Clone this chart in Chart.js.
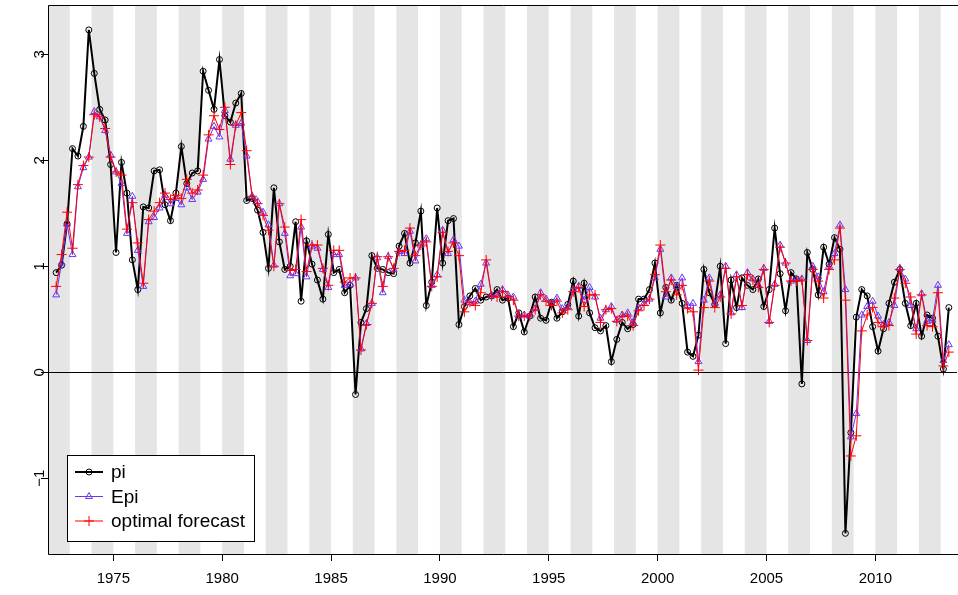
<!DOCTYPE html>
<html>
<head>
<meta charset="utf-8">
<script src="https://cdn.jsdelivr.net/npm/chart.js@4/dist/chart.umd.min.js"></script>
<style>
html, body { margin: 0; padding: 0; background: #fff; }
#wrap { width: 958px; height: 595px; }
</style>
</head>
<body>
<div id="wrap"><canvas id="chart" width="958" height="595"></canvas></div>
<script>
// quarterly series, first observation 1972 Q2 (mid-quarter dates)
const firstQuarter = 1972.375;

const pi = [0.94, 1.01, 1.40, 2.11, 2.04, 2.32, 3.23, 2.82, 2.48, 2.38,
    1.96, 1.13, 1.98, 1.69, 1.06, 0.78, 1.56, 1.55, 1.90, 1.91,
    1.58, 1.43, 1.69, 2.13, 1.78, 1.88, 1.90, 2.84, 2.66, 2.48,
    2.95, 2.42, 2.36, 2.54, 2.63, 1.62, 1.64, 1.53, 1.32, 0.98,
    1.74, 1.23, 0.97, 1.00, 1.42, 0.67, 1.24, 1.02, 0.87, 0.69,
    1.30, 0.94, 0.97, 0.75, 0.82, -0.21, 0.47, 0.60, 1.10, 0.98,
    0.97, 0.94, 0.93, 1.19, 1.31, 1.03, 1.22, 1.52, 0.63, 0.85,
    1.55, 1.03, 1.43, 1.45, 0.45, 0.62, 0.72, 0.79, 0.68, 0.71,
    0.72, 0.78, 0.68, 0.70, 0.43, 0.56, 0.38, 0.53, 0.71, 0.51,
    0.49, 0.66, 0.51, 0.57, 0.64, 0.86, 0.53, 0.84, 0.56, 0.42,
    0.39, 0.44, 0.10, 0.31, 0.47, 0.41, 0.45, 0.69, 0.69, 0.78,
    1.03, 0.56, 0.80, 0.68, 0.82, 0.65, 0.19, 0.15, 0.35, 0.97,
    0.75, 0.64, 1.00, 0.27, 0.87, 0.61, 0.89, 0.82, 0.78, 0.88,
    0.62, 0.78, 1.36, 0.93, 0.58, 0.94, 0.88, -0.11, 1.13, 0.97,
    0.73, 1.18, 1.02, 1.27, 1.16, -1.52, -0.57, 0.52, 0.78, 0.72,
    0.43, 0.20, 0.41, 0.65, 0.85, 0.97, 0.65, 0.44, 0.65, 0.34,
    0.54, 0.51, 0.34, 0.03, 0.61];

const epi = [0.73, 1.03, 1.40, 1.11, 1.75, 1.93, 2.03, 2.46, 2.41, 2.28,
    2.05, 1.89, 1.78, 1.31, 1.66, 1.15, 0.81, 1.42, 1.46, 1.55,
    1.67, 1.59, 1.64, 1.58, 1.74, 1.63, 1.70, 1.82, 2.20, 2.32,
    2.22, 2.47, 2.01, 2.33, 2.35, 2.04, 1.66, 1.61, 1.51, 1.39,
    1.01, 1.59, 1.31, 0.91, 0.93, 1.37, 0.90, 1.19, 1.17, 0.97,
    0.80, 1.11, 1.11, 0.82, 0.83, 0.89, 0.22, 0.46, 0.65, 1.08,
    0.75, 1.09, 0.97, 1.14, 1.12, 1.33, 1.05, 1.20, 1.26, 0.82,
    0.92, 1.34, 1.12, 1.25, 1.19, 0.68, 0.66, 0.67, 0.83, 1.03,
    0.72, 0.73, 0.78, 0.73, 0.71, 0.53, 0.54, 0.53, 0.60, 0.75,
    0.69, 0.65, 0.70, 0.60, 0.62, 0.78, 0.81, 0.68, 0.80, 0.71,
    0.51, 0.59, 0.62, 0.49, 0.54, 0.56, 0.47, 0.61, 0.65, 0.69,
    0.89, 1.16, 0.71, 0.89, 0.81, 0.89, 0.63, 0.65, 0.10, 0.68,
    0.89, 0.65, 0.73, 1.00, 0.56, 0.92, 0.61, 0.94, 0.88, 0.82,
    0.98, 0.48, 0.83, 1.20, 1.03, 0.86, 0.88, 0.88, 0.30, 1.00,
    0.90, 0.76, 1.00, 1.12, 1.39, 0.78, -0.61, -0.39, 0.54, 0.62,
    0.67, 0.53, 0.45, 0.47, 0.63, 0.98, 0.88, 0.63, 0.41, 0.74,
    0.48, 0.49, 0.82, 0.11, 0.26];

const forecast = [0.81, 1.11, 1.51, 1.17, 1.77, 1.95, 2.03, 2.43, 2.41, 2.30,
    2.03, 1.89, 1.86, 1.35, 1.60, 1.22, 0.84, 1.44, 1.52, 1.60,
    1.69, 1.63, 1.67, 1.64, 1.82, 1.69, 1.72, 1.86, 2.24, 2.42,
    2.29, 2.50, 1.96, 2.33, 2.45, 2.09, 1.66, 1.59, 1.48, 1.34,
    1.00, 1.59, 1.37, 0.96, 0.97, 1.44, 0.95, 1.20, 1.20, 0.98,
    0.82, 1.15, 1.15, 0.85, 0.89, 0.89, 0.21, 0.45, 0.65, 1.09,
    0.81, 1.09, 0.98, 1.14, 1.15, 1.36, 1.10, 1.20, 1.23, 0.81,
    0.90, 1.32, 1.14, 1.22, 1.10, 0.57, 0.66, 0.63, 0.75, 1.06,
    0.72, 0.71, 0.76, 0.71, 0.68, 0.53, 0.53, 0.53, 0.59, 0.73,
    0.67, 0.63, 0.67, 0.56, 0.59, 0.76, 0.80, 0.62, 0.73, 0.73,
    0.47, 0.59, 0.60, 0.48, 0.53, 0.53, 0.44, 0.58, 0.63, 0.69,
    0.92, 1.20, 0.76, 0.87, 0.73, 0.82, 0.60, 0.57, 0.02, 0.61,
    0.86, 0.61, 0.71, 0.98, 0.55, 0.90, 0.63, 0.92, 0.87, 0.80,
    0.97, 0.47, 0.82, 1.18, 1.03, 0.86, 0.86, 0.87, 0.30, 0.97,
    0.86, 0.70, 0.97, 1.06, 1.36, 0.68, -0.79, -0.60, 0.39, 0.54,
    0.61, 0.47, 0.43, 0.44, 0.70, 0.97, 0.84, 0.71, 0.36, 0.73,
    0.44, 0.43, 0.75, 0.06, 0.19];

const xTicks = [1975, 1980, 1985, 1990, 1995, 2000, 2005, 2010];
const yTicks = [-1, 0, 1, 2, 3];
const seriesNames = ['pi', 'Epi', 'optimal forecast'];
const seriesColors = ['#000000', '#6a35f5', '#ff0000'];

const quarters = pi.map((v, i) => firstQuarter + i * 0.25);
const toPoints = arr => arr.map((v, i) => ({ x: quarters[i], y: v }));

const FONT = "'Liberation Sans', Arial, Helvetica, sans-serif";

// grey bands for every other year, zero line, box
const backdrop = {
    id: 'backdrop',
    beforeDatasetsDraw(chart) {
        const { ctx, chartArea: a, scales: { x, y } } = chart;
        ctx.save();
        ctx.beginPath();
        ctx.rect(a.left, a.top, a.right - a.left, a.bottom - a.top);
        ctx.clip();
        ctx.fillStyle = '#e5e5e5';
        for (let yr = 1972; yr < 2014; yr += 2) {
            const x0 = x.getPixelForValue(yr);
            const x1 = x.getPixelForValue(yr + 1);
            ctx.fillRect(x0, a.top, x1 - x0, a.bottom - a.top);
        }
        ctx.strokeStyle = '#000';
        ctx.lineWidth = 1;
        const y0 = Math.round(y.getPixelForValue(0)) + 0.5;
        ctx.beginPath();
        ctx.moveTo(a.left, y0);
        ctx.lineTo(a.right, y0);
        ctx.stroke();
        ctx.restore();
    },
    afterDraw(chart) {
        const { ctx, chartArea: a, scales: { y } } = chart;
        ctx.save();
        ctx.strokeStyle = '#000';
        ctx.lineWidth = 1;
        // box: left, top, bottom (right side falls off the picture)
        const l = Math.round(a.left) + 0.5, t = Math.round(a.top) + 0.5, b = Math.round(a.bottom) + 0.5;
        ctx.beginPath();
        ctx.moveTo(a.right + 2, t);
        ctx.lineTo(l, t);
        ctx.lineTo(l, b);
        ctx.lineTo(a.right + 2, b);
        ctx.stroke();

        // rotated y labels like R
        ctx.fillStyle = '#000';
        ctx.font = '15px ' + FONT;
        ctx.textAlign = 'center';
        ctx.textBaseline = 'middle';
        yTicks.forEach(v => {
            ctx.save();
            ctx.translate(a.left - 8, y.getPixelForValue(v));
            ctx.rotate(-Math.PI / 2);
            ctx.fillText(v < 0 ? '\u2212' + Math.abs(v) : String(v), 0, 0);
            ctx.restore();
        });

        // legend box
        const bx = 67, by = 455, bw = 187, bh = 86;
        ctx.fillStyle = '#fff';
        ctx.fillRect(bx, by, bw, bh);
        ctx.strokeRect(bx + 0.5, by + 0.5, bw, bh);
        ctx.font = '19px ' + FONT;
        ctx.textAlign = 'left';
        seriesNames.forEach((name, i) => {
            const ly = by + 17 + i * 24.5;
            const ds = chart.data.datasets[i];
            ctx.strokeStyle = ds.borderColor;
            ctx.lineWidth = ds.borderWidth;
            ctx.beginPath();
            ctx.moveTo(75, ly);
            ctx.lineTo(103, ly);
            ctx.stroke();
            ctx.lineWidth = 1;
            ctx.fillStyle = 'rgba(0,0,0,0)';
            Chart.helpers.drawPoint(ctx, {
                pointStyle: ds.pointStyle,
                radius: ds.pointRadius,
                borderWidth: 1,
                rotation: 0
            }, 89, ly);
            ctx.fillStyle = '#000';
            ctx.fillText(name, 111, ly + 1);
        });
        ctx.restore();
    }
};

const ctx = document.getElementById('chart').getContext('2d');
new Chart(ctx, {
    type: 'line',
    data: {
        datasets: [{
            label: seriesNames[0],
            data: toPoints(pi),
            borderColor: seriesColors[0],
            borderWidth: 2,
            pointStyle: 'circle',
            pointRadius: 3,
            pointBorderWidth: 1,
            pointBorderColor: seriesColors[0],
            pointBackgroundColor: 'rgba(0,0,0,0)',
            tension: 0,
            order: 3
        }, {
            label: seriesNames[1],
            data: toPoints(epi),
            borderColor: seriesColors[1],
            borderWidth: 1,
            pointStyle: 'triangle',
            pointRadius: 4,
            pointBorderWidth: 1,
            pointBorderColor: seriesColors[1],
            pointBackgroundColor: 'rgba(0,0,0,0)',
            tension: 0,
            order: 2
        }, {
            label: seriesNames[2],
            data: toPoints(forecast),
            borderColor: seriesColors[2],
            borderWidth: 1,
            pointStyle: 'cross',
            pointRadius: 5,
            pointBorderWidth: 1,
            pointBorderColor: seriesColors[2],
            pointBackgroundColor: 'rgba(0,0,0,0)',
            tension: 0,
            order: 1
        }]
    },
    options: {
        responsive: false,
        animation: false,
        devicePixelRatio: 1,
        layout: { autoPadding: false, padding: { left: 0, right: 1, top: 5, bottom: 0 } },
        plugins: {
            legend: { display: false },
            tooltip: { enabled: false }
        },
        scales: {
            x: {
                type: 'linear',
                min: 1972,
                max: 2013.75,
                afterBuildTicks: s => { s.ticks = xTicks.map(v => ({ value: v })); },
                afterFit: s => { s.height = 41; s.paddingLeft = 0; s.paddingRight = 0; },
                border: { display: false },
                grid: { drawOnChartArea: false, drawTicks: true, tickLength: 7, color: '#000' },
                ticks: {
                    color: '#000',
                    padding: 9,
                    maxRotation: 0,
                    font: { size: 15, family: FONT },
                    callback: v => String(v)
                }
            },
            y: {
                type: 'linear',
                min: -1.715,
                max: 3.465,
                afterBuildTicks: s => { s.ticks = yTicks.map(v => ({ value: v })); },
                afterFit: s => { s.width = 48; s.paddingTop = 0; s.paddingBottom = 0; },
                border: { display: false },
                grid: { drawOnChartArea: false, drawTicks: true, tickLength: 7, color: '#000' },
                ticks: { color: 'rgba(0,0,0,0)', font: { size: 13, family: FONT } }
            }
        }
    },
    plugins: [backdrop]
});
</script>
</body>
</html>
